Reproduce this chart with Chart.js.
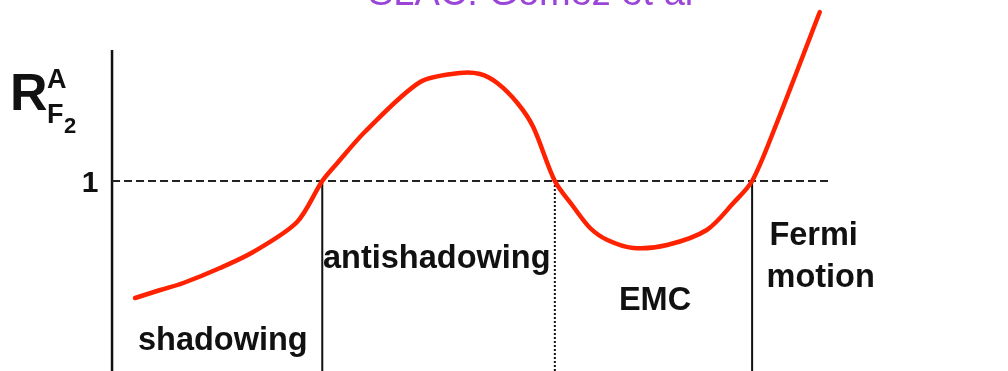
<!DOCTYPE html>
<html>
<head>
<meta charset="utf-8">
<script src="https://cdn.jsdelivr.net/npm/chart.js@4.4.0/dist/chart.umd.js"></script>
<style>
  html, body { margin: 0; padding: 0; background: #fff; }
  #wrap { width: 1008px; height: 371px; }
</style>
</head>
<body>
<div id="wrap"><canvas id="emc" width="1008" height="371"></canvas></div>
<script>
// x in arbitrary units (0 = axis), y is the ratio R
const curveX = [3.2, 6.7, 9.9, 15.0, 19.6, 25.7, 29.2, 31.3, 35.1, 42.8, 48.3, 51.1, 53.5, 56.3, 58.5, 61.5,
  64.0, 66.4, 68.8, 72.4, 77.1, 82.6, 86.3, 88.9, 92.0, 98.3];
const curveY = [0.766, 0.782, 0.796, 0.826, 0.858, 0.918, 1.0, 1.036, 1.098, 1.198, 1.216, 1.214, 1.196, 1.156, 1.108, 1.0,
  0.950, 0.906, 0.882, 0.866, 0.872, 0.902, 0.956, 1.0, 1.104, 1.338];
const boundaries = [29.2, 61.5, 88.9];
const regionNames = ['shadowing', 'antishadowing', 'EMC', ['Fermi', 'motion']];
const unityY = 1;
const unityEndX = 99.7;
const axisTop = 1.262;
const xMin = -15.56, xMax = 124.44;
const yMin = 0.62, yMax = 1.362;

const FONT = '"Liberation Sans", Arial, Helvetica, sans-serif';
const ink = '#111';

const curve = curveX.map((x, i) => ({ x, y: curveY[i] }));

const boundarySets = boundaries.map((b, i) => ({
  data: [{ x: b, y: unityY }, { x: b, y: yMin }],
  borderColor: ink,
  borderWidth: 2,
  borderDash: i === 1 ? [2, 2] : [],
  pointRadius: 0,
  showLine: true,
  order: 3
}));

// text labels placed in data units
const labelsPlugin = {
  id: 'labels',
  afterDraw(chart) {
    const { ctx, scales: { x, y } } = chart;
    ctx.save();
    ctx.fillStyle = ink;
    ctx.textBaseline = 'alphabetic';

    ctx.font = `bold 32.5px ${FONT}`;
    ctx.textAlign = 'left';
    const spots = [[3.6, 0.662], [29.3, 0.826], [70.4, 0.742]];
    spots.forEach(([px, py], i) => {
      ctx.fillText(regionNames[i], x.getPixelForValue(px), y.getPixelForValue(py));
    });
    const fm = regionNames[3];
    ctx.fillText(fm[0], x.getPixelForValue(91.3), y.getPixelForValue(0.872));
    ctx.fillText(fm[1], x.getPixelForValue(90.9), y.getPixelForValue(0.788));

    // tick "1"
    ctx.textAlign = 'right';
    ctx.font = `bold 30px ${FONT}`;
    ctx.fillText('1', x.getPixelForValue(-1.9), y.getPixelForValue(unityY) + 11);

    // axis title R^A_F2
    ctx.textAlign = 'left';
    ctx.font = `bold 52px ${FONT}`;
    ctx.fillText('R', 10, 110);
    ctx.font = `bold 27px ${FONT}`;
    ctx.fillText('A', 47, 88);
    ctx.fillText('F', 47, 123);
    ctx.font = `bold 22px ${FONT}`;
    ctx.fillText('2', 64, 133);

    // heading, cut at the top edge
    ctx.fillStyle = '#9b45d8';
    ctx.font = `38px ${FONT}`;
    ctx.textAlign = 'left';
    ctx.fillText('SLAC: Gomez et al', 368, 5);
    ctx.restore();
  }
};

new Chart(document.getElementById('emc'), {
  type: 'scatter',
  data: {
    datasets: [
      {
        data: curve,
        borderColor: '#ff2200',
        borderWidth: 4.5,
        pointRadius: 0,
        showLine: true,
        tension: 0.3,
        borderCapStyle: 'round',
        borderJoinStyle: 'round',
        order: 1
      },
      {
        data: [{ x: 0, y: unityY }, { x: unityEndX, y: unityY }],
        borderColor: '#222',
        borderWidth: 2,
        borderDash: [8, 4],
        pointRadius: 0,
        showLine: true,
        order: 2
      },
      {
        data: [{ x: 0, y: axisTop }, { x: 0, y: yMin }],
        borderColor: ink,
        borderWidth: 2.5,
        pointRadius: 0,
        showLine: true,
        order: 2
      },
      ...boundarySets
    ]
  },
  options: {
    responsive: false,
    animation: false,
    layout: { padding: 0 },
    plugins: { legend: { display: false }, tooltip: { enabled: false } },
    scales: {
      x: { type: 'linear', min: xMin, max: xMax, display: false },
      y: { type: 'linear', min: yMin, max: yMax, display: false }
    }
  },
  plugins: [labelsPlugin]
});
</script>
</body>
</html>
